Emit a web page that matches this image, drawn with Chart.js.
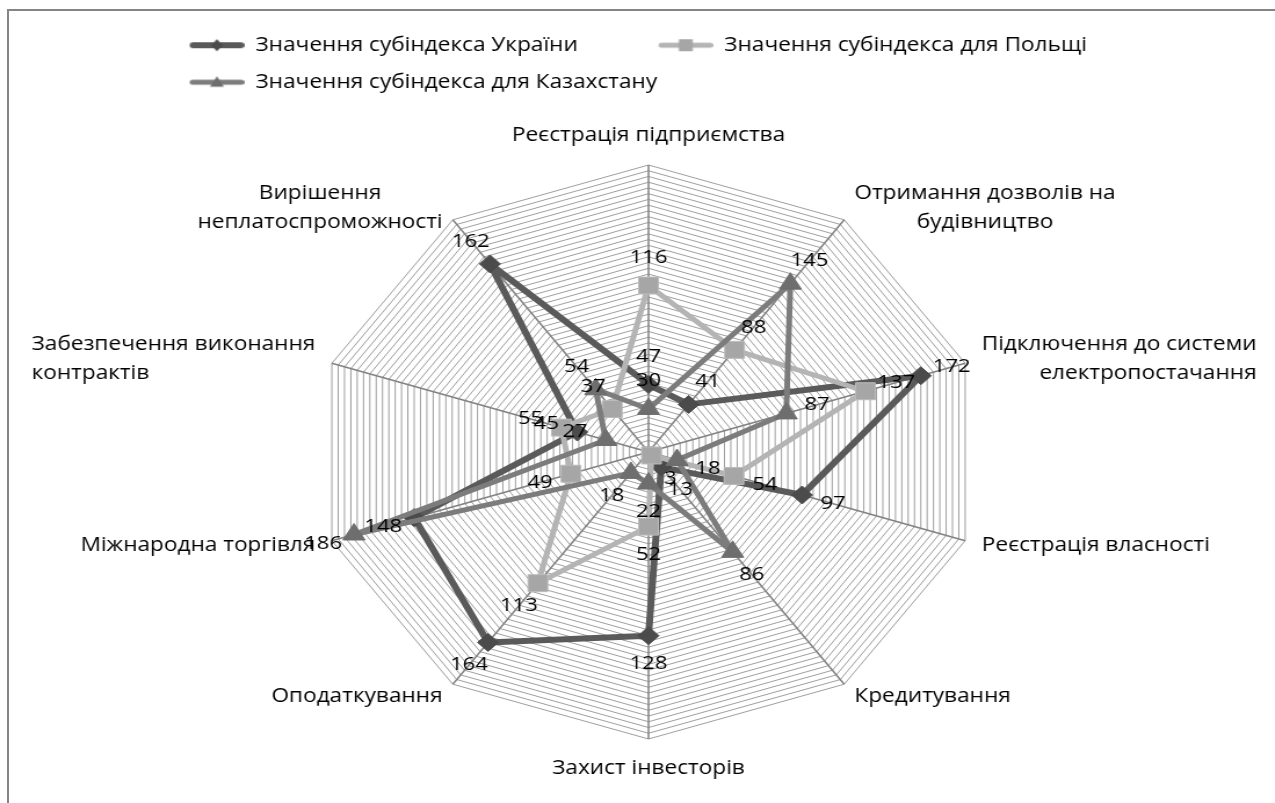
<!DOCTYPE html>
<html lang="uk">
<head>
<meta charset="utf-8">
<title>Значення субіндексів</title>
<script src="https://cdn.jsdelivr.net/npm/chart.js@4.4.1/dist/chart.umd.min.js"></script>
<style>
	html, body { margin: 0; padding: 0; background: #fff; overflow: hidden; }
	#frame {
		position: absolute; left: 7px; top: 9px; width: 1300px; height: 820px;
		border-left: 2px solid #858585; border-top: 2px solid #858585;
	}
	/* the original picture is stretched horizontally, so is the chart */
	#wrap {
		position: absolute; left: 0; top: 0; width: 1099px; height: 803px;
		transform: scaleX(1.1601); transform-origin: 0 0;
	}
</style>
</head>
<body>
<div id="frame"></div>
<div id="wrap"><canvas id="chart"></canvas></div>
<script>
// Categories, clockwise from the top
const categories = [
	'Реєстрація підприємства',
	['Отримання дозволів на', 'будівництво'],
	['Підключення до системи', 'електропостачання'],
	'Реєстрація власності',
	'Кредитування',
	'Захист інвесторів',
	'Оподаткування',
	'Міжнародна торгівля',
	['Забезпечення виконання', 'контрактів'],
	['Вирішення', 'неплатоспроможності']
];

const seriesNames = [
	'Значення субіндекса України',
	'Значення субіндекса для Польщі',
	'Значення субіндекса для Казахстану'
];

const ukraine    = [47, 41, 172, 97, 13, 128, 164, 148, 45, 162];
const poland     = [116, 88, 137, 54, 3, 52, 113, 49, 55, 37];
const kazakhstan = [30, 145, 87, 18, 86, 22, 18, 186, 27, 54];

const scaleMax = 200;
const scaleStep = 4;

// Layout / style
const FONT = "'Open Sans', 'DejaVu Sans', sans-serif";
const RADIUS = 287;
const CAT_GAP = 15;
const CAT_LINE_H = 29;
const VALUE_GAP = 28;
const ICON_W = 99;
const ICON_LINE = 47;

function legendIcon(lineColor, lineWidth, markerColor, shape, size) {
	const c = document.createElement('canvas');
	c.width = ICON_W;
	c.height = 24;
	const g = c.getContext('2d');
	const x0 = ICON_W - ICON_LINE;
	const cy = 12;
	const mx = ICON_W - ICON_LINE / 2;
	g.strokeStyle = lineColor;
	g.lineWidth = lineWidth;
	g.lineCap = 'round';
	g.beginPath();
	g.moveTo(x0 + lineWidth / 2, cy);
	g.lineTo(ICON_W - lineWidth / 2, cy);
	g.stroke();
	g.fillStyle = markerColor;
	g.beginPath();
	if (shape === 'rectRot') {
		g.moveTo(mx, cy - size);
		g.lineTo(mx + size * 0.85, cy);
		g.lineTo(mx, cy + size);
		g.lineTo(mx - size * 0.85, cy);
	} else if (shape === 'rect') {
		g.rect(mx - size, cy - size, size * 2, size * 2);
	} else {
		g.moveTo(mx, cy - size);
		g.lineTo(mx + size, cy + size * 0.75);
		g.lineTo(mx - size, cy + size * 0.75);
	}
	g.closePath();
	g.fill();
	return c;
}

const legendIcons = [
	legendIcon('#5a5a5a', 6, '#4b4b4b', 'rectRot', 6),
	legendIcon('#b4b4b4', 5, '#a6a6a6', 'rect', 6),
	legendIcon('#7c7c7c', 5, '#6e6e6e', 'triangle', 6)
];

// Category names and value labels, placed the way the spreadsheet does it
const excelLabels = {
	id: 'excelLabels',
	afterDatasetsDraw(chart) {
		const r = chart.scales.r;
		const ctx = chart.ctx;
		ctx.save();
		ctx.fillStyle = '#000';
		ctx.textBaseline = 'middle';
		ctx.textAlign = 'left';
		ctx.font = `19.5px ${FONT}`;

		categories.forEach((cat, i) => {
			const lines = [].concat(cat);
			const angle = r.getIndexAngle(i);
			const deg = Math.round(angle * 180 / Math.PI) % 360;
			const p = r.getPointPosition(i, r.drawingArea + CAT_GAP);
			const widths = lines.map(l => ctx.measureText(l).width);
			const blockW = Math.max(...widths);
			const blockH = lines.length * CAT_LINE_H;
			const left = (deg === 0 || deg === 180) ? p.x - blockW / 2 : (deg < 180 ? p.x : p.x - blockW);
			const top = deg === 0 ? p.y - blockH : (deg === 180 ? p.y : p.y - blockH / 2);
			const sideways = Math.abs(Math.sin(angle)) > 0.9;
			lines.forEach((line, k) => {
				let x = left + (blockW - widths[k]) / 2;
				if (sideways) x = deg < 180 ? left + blockW - widths[k] : left;
				ctx.fillText(line, x, top + CAT_LINE_H * (k + 0.5));
			});
		});

		ctx.textAlign = 'center';
		ctx.font = `19px ${FONT}`;
		chart.data.datasets.forEach(ds => {
			ds.data.forEach((v, i) => {
				const p = r.getPointPosition(i, r.getDistanceFromCenterForValue(v) + VALUE_GAP);
				ctx.fillText(String(v), p.x, p.y);
			});
		});
		ctx.restore();
	}
};

new Chart(document.getElementById('chart'), {
	type: 'radar',
	data: {
		labels: categories,
		datasets: [
			{
				label: seriesNames[0],
				data: ukraine,
				order: 2,
				borderColor: '#5a5a5a',
				borderWidth: 6,
				pointStyle: 'rectRot',
				pointRadius: 9,
				pointBackgroundColor: '#4b4b4b',
				pointBorderColor: '#4b4b4b',
				pointBorderWidth: 1
			},
			{
				label: seriesNames[1],
				data: poland,
				order: 1,
				borderColor: '#b4b4b4',
				borderWidth: 5,
				pointStyle: 'rect',
				pointRadius: 12,
				pointBackgroundColor: '#a6a6a6',
				pointBorderColor: '#bcbcbc',
				pointBorderWidth: 1
			},
			{
				label: seriesNames[2],
				data: kazakhstan,
				order: 0,
				borderColor: '#7c7c7c',
				borderWidth: 5,
				pointStyle: 'triangle',
				pointRadius: 11,
				pointBackgroundColor: '#6e6e6e',
				pointBorderColor: '#6e6e6e',
				pointBorderWidth: 1
			}
		]
	},
	options: {
		responsive: true,
		maintainAspectRatio: false,
		animation: false,
		events: [],
		layout: { padding: { left: 94, right: 74, top: 18, bottom: -4 } },
		elements: {
			line: { tension: 0, fill: false, borderJoinStyle: 'round', backgroundColor: 'transparent' }
		},
		scales: {
			r: {
				min: 0,
				max: scaleMax,
				ticks: { display: false, stepSize: scaleStep },
				grid: { color: '#9e9e9e', lineWidth: 1 },
				angleLines: { color: '#828282', lineWidth: 1.5 },
				pointLabels: { display: false },
				afterFit(scale) { scale.drawingArea = RADIUS; }
			}
		},
		plugins: {
			legend: {
				position: 'top',
				align: 'start',
				labels: {
					usePointStyle: true,
					pointStyleWidth: ICON_W,
					padding: 17.5,
					color: '#000',
					font: { family: FONT, size: 19.5 },
					sort: (a, b) => a.datasetIndex - b.datasetIndex,
					generateLabels(chart) {
						const items = Chart.defaults.plugins.legend.labels.generateLabels(chart);
						items.forEach(it => { it.pointStyle = legendIcons[it.datasetIndex]; });
						return items;
					}
				}
			},
			tooltip: { enabled: false }
		}
	},
	plugins: [excelLabels]
});
</script>
</body>
</html>
